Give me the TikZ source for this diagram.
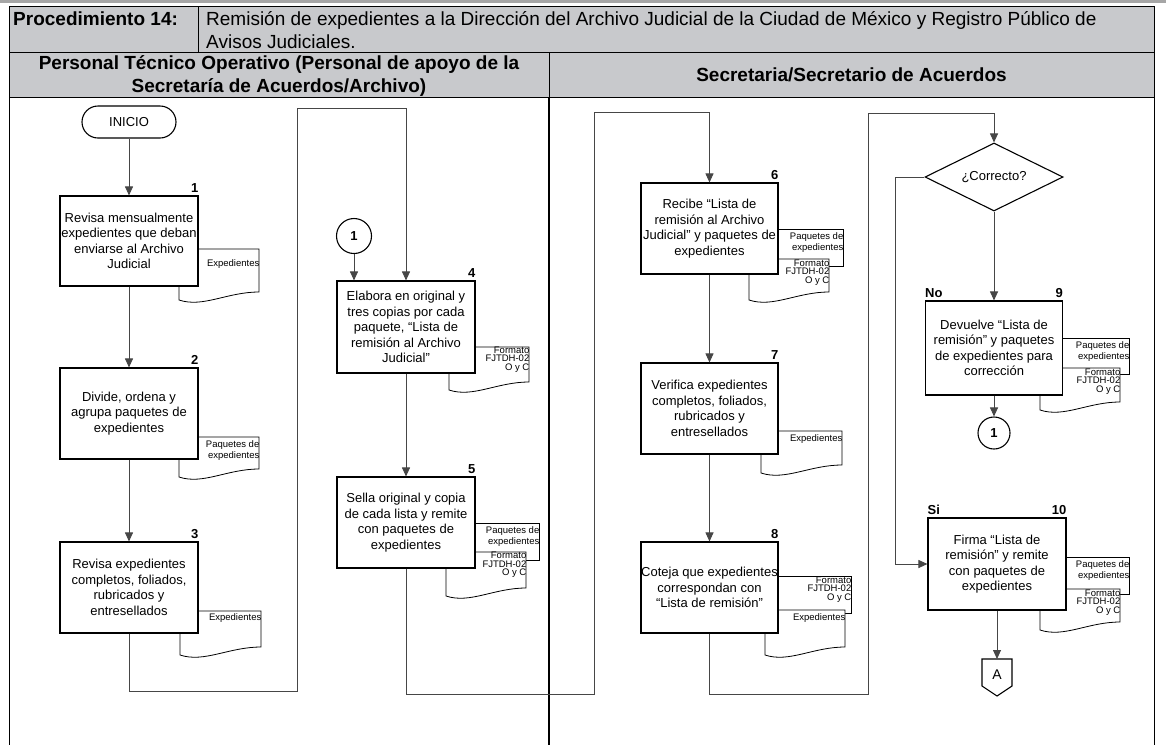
\documentclass[tikz,border=0pt]{standalone}
\usepackage{fontspec}
\setmainfont{Liberation Sans}
\usetikzlibrary{arrows.meta,shapes.geometric,calc}
\definecolor{hdrgray}{RGB}{200,201,204}
\definecolor{flowgray}{RGB}{70,70,70}

\tikzset{
  procbox/.style={draw=black, line width=1.1pt, fill=white, minimum width=138pt,
    minimum height=91pt, inner xsep=0pt, inner ysep=1pt, align=center,
    font=\fontsize{13}{15.5}\selectfont},
  stepno/.style={anchor=south east, inner sep=0pt, yshift=3pt,
    font=\bfseries\fontsize{13}{13}\selectfont},
  branch/.style={anchor=south west, inner sep=0pt, yshift=3pt,
    font=\bfseries\fontsize{13}{13}\selectfont},
  flow/.style={draw=flowgray, line width=0.9pt, -{Triangle[length=9pt,width=8pt]}},
  doctext/.style={anchor=north east, inner sep=0pt, align=right,
    font=\fontsize{9.5}{11}\selectfont},
  formtext/.style={anchor=north east, inner sep=0pt, align=right,
    font=\fontsize{9.5}{8.6}\selectfont},
  docline/.style={draw=black, line width=0.8pt, fill=white},
  conn/.style={draw=black, line width=1.1pt, circle, fill=white, inner sep=0pt,
    font=\bfseries\fontsize{13}{13}\selectfont},
}

% document symbol: left x, right x, top y, lower-left y (wavy bottom edge)
\newcommand{\docshape}[4]{%
  \path[docline] (#1,#3) -- (#2,#3) -- (#2,#4-8)
    .. controls ({#1+0.6*(#2-#1)},#4-8) and ({#1+0.3*(#2-#1)},#4+8) .. (#1,#4) -- cycle;}
% stacked sheet behind a document symbol
\newcommand{\backsheet}[4]{\path[docline] (#1,#3) rectangle (#2,#4);}

\begin{document}
\begin{tikzpicture}[x=1pt,y=-1pt]
\useasboundingbox (0,0) rectangle (1166,745);
\fill[white] (0,0) rectangle (1166,745);

% ---------- header ----------
\draw[gray!70, line width=2.5pt] (0,1.5) -- (1166,1.5);
\fill[hdrgray] (9,6) rectangle (1154,97);
\draw[line width=1pt] (9,6) -- (1154,6);
\draw[line width=1pt] (9,52) -- (1154,52);
\draw[line width=1pt] (9,97) -- (1154,97);
\draw[line width=1pt] (198,6) -- (198,52);
\draw[line width=1pt] (549,52) -- (549,97);

\node[anchor=base west, inner sep=0pt, font=\bfseries\fontsize{19}{22}\selectfont]
  (proc) at (13,25) {Procedimiento 14:};
\node[anchor=north west, inner sep=0pt, align=left, font=\fontsize{19}{23}\selectfont]
  (desc) at (206,11) {Remisión de expedientes a la Dirección del Archivo Judicial de la Ciudad de México y Registro Público de\\Avisos Judiciales.};
\node[align=center, inner sep=0pt, font=\bfseries\fontsize{19}{22}\selectfont]
  (laneA) at (279,76) {Personal Técnico Operativo (Personal de apoyo de la\\Secretaría de Acuerdos/Archivo)};
\node[inner sep=0pt, font=\bfseries\fontsize{19}{22}\selectfont]
  (laneB) at (851.5,75) {Secretaria/Secretario de Acuerdos};

% ---------- lane frame ----------
\draw[line width=1pt] (9,6) -- (9,745);
\draw[line width=1pt] (1154,6) -- (1154,745);
\draw[line width=2.4pt] (549,97) -- (549,745);

% ---------- documents ----------
\docshape{179}{259}{249}{300}
\node[doctext] (d1) at (259.5,259) {Expedientes};
\docshape{179}{259}{437}{477}
\node[doctext] (d2) at (259.5,440) {Paquetes de\\expedientes};
\docshape{180}{261}{611}{655}
\node[doctext] (d3) at (261.5,613) {Expedientes};
\docshape{449}{529}{347}{390}
\node[formtext] (d4) at (529.5,346.5) {Formato\\FJTDH-02\\O y C};

\backsheet{455}{539}{523}{560}
\node[doctext] (d5a) at (539.5,526) {Paquetes de\\expedientes};
\docshape{446}{526}{552}{596}
\node[formtext] (d5b) at (526.5,552) {Formato\\FJTDH-02\\O y C};

\backsheet{760}{843}{229}{266}
\node[doctext] (d6a) at (843.5,232) {Paquetes de\\expedientes};
\docshape{749}{829}{259}{300}
\node[formtext] (d6b) at (829.5,259.5) {Formato\\FJTDH-02\\O y C};

\docshape{761}{842}{431}{473}
\node[doctext] (d7) at (842.5,434) {Expedientes};

\backsheet{760}{851}{576}{613}
\node[formtext] (d8a) at (851.5,576.5) {Formato\\FJTDH-02\\O y C};
\docshape{765}{845}{610}{655}
\node[doctext] (d8b) at (845.5,613) {Expedientes};

\backsheet{1045}{1129}{338}{374}
\node[doctext] (d9a) at (1129.5,341) {Paquetes de\\expedientes};
\docshape{1040}{1120}{368}{410}
\node[formtext] (d9b) at (1120.5,368.5) {Formato\\FJTDH-02\\O y C};

\backsheet{1045}{1129}{557}{594}
\node[doctext] (d10a) at (1129.5,560) {Paquetes de\\expedientes};
\docshape{1040}{1120}{589}{630}
\node[formtext] (d10b) at (1120.5,589.5) {Formato\\FJTDH-02\\O y C};

% ---------- process steps ----------
\node[draw=black, line width=1.1pt, fill=white, rounded corners=16pt, minimum width=94pt,
  minimum height=32pt, inner sep=0pt, font=\fontsize{13}{13}\selectfont] (ini) at (129,122) {INICIO};

\node[procbox, minimum height=90pt] (b1) at (129,241) {Revisa mensualmente\\expedientes que deban\\enviarse al Archivo\\Judicial};
\node[procbox] (b2) at (129,413.5) {Divide, ordena y\\agrupa paquetes de\\expedientes};
\node[procbox] (b3) at (129,587.5) {Revisa expedientes\\completos, foliados,\\rubricados y\\entresellados};

\node[conn, minimum size=35pt] (c1l) at (354,236) {1};
\node[procbox, minimum height=92pt] (b4) at (406,327) {Elabora en original y\\tres copias por cada\\paquete, “Lista de\\remisión al Archivo\\Judicial”};
\node[procbox] (b5) at (406,522.5) {Sella original y copia\\de cada lista y remite\\con paquetes de\\expedientes};

\node[procbox, minimum width=137pt] (b6) at (709.5,228.5) {Recibe “Lista de\\remisión al Archivo\\Judicial” y paquetes de\\expedientes};
\node[procbox, minimum width=137pt] (b7) at (709.5,408.5) {Verifica expedientes\\completos, foliados,\\rubricados y\\entresellados};
\node[procbox, minimum width=137pt] (b8) at (709.5,587.5) {Coteja que expedientes\\correspondan con\\“Lista de remisión”};

\node[draw=black, line width=1.1pt, fill=white, diamond, shape aspect=2, minimum width=138pt,
  minimum height=68pt, inner sep=0pt, font=\fontsize{13}{13}\selectfont] (dec) at (994,177) {¿Correcto?};
\node[procbox, minimum width=137pt, minimum height=94pt] (b9) at (994,348) {Devuelve “Lista de\\remisión” y paquetes\\de expedientes para\\corrección};
\node[conn, minimum size=32pt] (c1r) at (994,433) {1};
\node[procbox, minimum height=92pt] (b10) at (997,564) {Firma “Lista de\\remisión” y remite\\con paquetes de\\expedientes};

% off-page connector
\path[draw=black, line width=1.1pt, fill=white] (982,659) -- (1012,659) -- (1012,686) -- (997,696) -- (982,686) -- cycle;
\coordinate (offtop) at (997,659);
\node[inner sep=0pt, font=\fontsize{14}{14}\selectfont] (offA) at (997,675) {A};

% step numbers and branch labels
\node[stepno] (n1) at (b1.north east) {1};
\node[stepno] (n2) at (b2.north east) {2};
\node[stepno] (n3) at (b3.north east) {3};
\node[stepno] (n4) at (b4.north east) {4};
\node[stepno] (n5) at (b5.north east) {5};
\node[stepno] (n6) at (b6.north east) {6};
\node[stepno] (n7) at (b7.north east) {7};
\node[stepno] (n8) at (b8.north east) {8};
\node[stepno] (n9) at (b9.north east) {9};
\node[stepno] (n10) at (b10.north east) {10};
\node[branch] (lno) at (b9.north west) {No};
\node[branch] (lsi) at (b10.north west) {Si};

% ---------- connectors ----------
\coordinate (j1a) at (297,691);
\coordinate (j1b) at (406,108);
\coordinate (j2a) at (594,694);
\coordinate (j2b) at (709.5,112);
\coordinate (j3a) at (868,694);
\coordinate (j3b) at (994,113);
\coordinate (j4) at (895,177);

\draw[flow] (ini) -- (b1);
\draw[flow] (b1) -- (b2);
\draw[flow] (b2) -- (b3);
\draw[flow] (b3.south) |- (j1a) |- (j1b) -- (b4.north);
\draw[flow] (c1l.south) -- (c1l.south |- b4.north);
\draw[flow] (b4) -- (b5);
\draw[flow] (b5.south) |- (j2a) |- (j2b) -- (b6.north);
\draw[flow] (b6) -- (b7);
\draw[flow] (b7) -- (b8);
\draw[flow] (b8.south) |- (j3a) |- (j3b) -- (dec.north);
\draw[flow] (dec) -- (b9);
\draw[flow] (b9) -- (c1r);
\draw[flow] (dec.west) -- (j4) |- (b10.west);
\draw[flow] (b10.south) -- (offtop);
\end{tikzpicture}
\end{document}
